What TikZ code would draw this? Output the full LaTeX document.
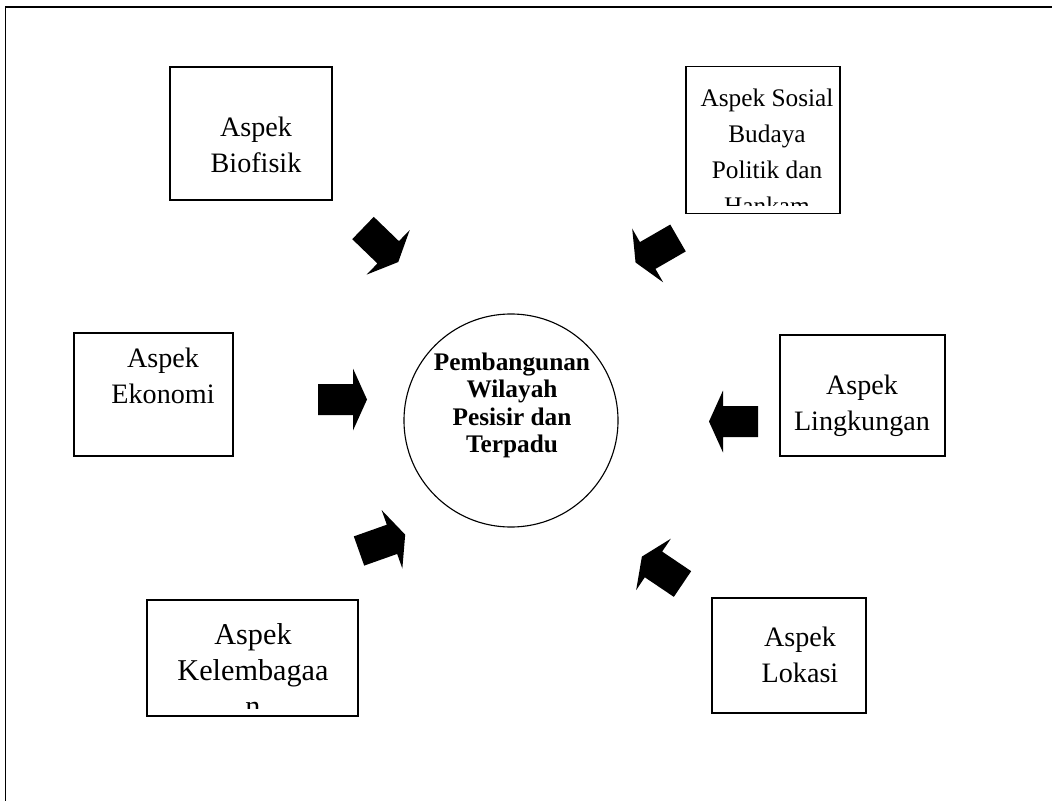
\documentclass[tikz,border=0pt]{standalone}
\usepackage{fontspec}
\setmainfont{Liberation Serif}
\usetikzlibrary{shapes.geometric}

\begin{document}
\begin{tikzpicture}[x=0.025cm,y=-0.025cm]
      \tikzstyle aspek=[draw, line width=0.8pt, inner sep=0pt]
      \tikzstyle teks=[align=center, inner sep=0pt,
      font=\fontsize{20}{25.6}\selectfont]
      \tikzstyle pusat=[align=center, inner sep=0pt,
      font=\fontsize{18}{19.4}\selectfont\bfseries]
      \tikzset{panah/.pic={\fill (0,-15.5) -- (35,-15.5) -- (35,-31) -- (49,0)
      -- (35,31) -- (35,15.5) -- (0,15.5) -- cycle;}}
      \useasboundingbox (0,0) rectangle (1052,801);
      \draw [line width=1.2pt] (1052,7) -- (5.5,7) -- (5.5,801);
      \node [aspek, minimum width=4.05cm, minimum height=3.325cm] (biofisik) at (251,133.5) {};
      \node [teks] (tbiofisik) at (256,145) {Aspek\\Biofisik};
      \node [aspek, minimum width=3.85cm, minimum height=3.675cm] (sosial) at (763,140.3) {};
      \begin{scope}
        \clip (sosial.north west) rectangle ([yshift=0.22cm]sosial.south east);
        \node [teks, font=\fontsize{18}{25.6}\selectfont] (tsosial) at (767,152) {Aspek Sosial\\Budaya\\Politik dan\\Hankam};
      \end{scope}
      \node [aspek, minimum width=3.975cm, minimum height=3.075cm] (ekonomi) at (153.5,394.5) {};
      \node [teks] (tekonomi) at (163,375.5) {Aspek\\Ekonomi};
      \node [aspek, minimum width=4.125cm, minimum height=3.025cm] (lingkungan) at (862.5,395.5) {};
      \node [teks] (tlingkungan) at (862,406) {Aspek\\Lingkungan};
      \node [aspek, minimum width=5.275cm, minimum height=2.9cm] (kelembagaan) at (252.5,658) {};
      \begin{scope}
        \clip (kelembagaan.north west) rectangle ([yshift=0.19cm]kelembagaan.south east);
        \node [teks, font=\fontsize{21.5}{25.6}\selectfont] (tkelembagaan) at (253,670) {Aspek\\Kelembagaa\\n};
      \end{scope}
      \node [aspek, minimum width=3.85cm, minimum height=2.875cm] (lokasi) at (789,655.5) {};
      \node [teks] (tlokasi) at (800,654.5) {Aspek\\Lokasi};
      \node [ellipse, draw, line width=0.8pt, minimum width=5.35cm, minimum height=5.325cm] (wilayah) at (511,420.5) {};
      \node [pusat] (twilayah) at (512,405.5) {Pembangunan\\Wilayah\\Pesisir dan\\Terpadu};
      \pic [rotate=-44] at (363,228) {panah};
      \pic [rotate=210] at (678,238) {panah};
      \pic at (318,399.5) {panah};
      \pic [rotate=180] at (758,421.5) {panah};
      \pic [rotate=19.5] at (359,551) {panah};
      \pic [rotate=146] at (682.5,584) {panah};
    \end{tikzpicture}
\end{document}
